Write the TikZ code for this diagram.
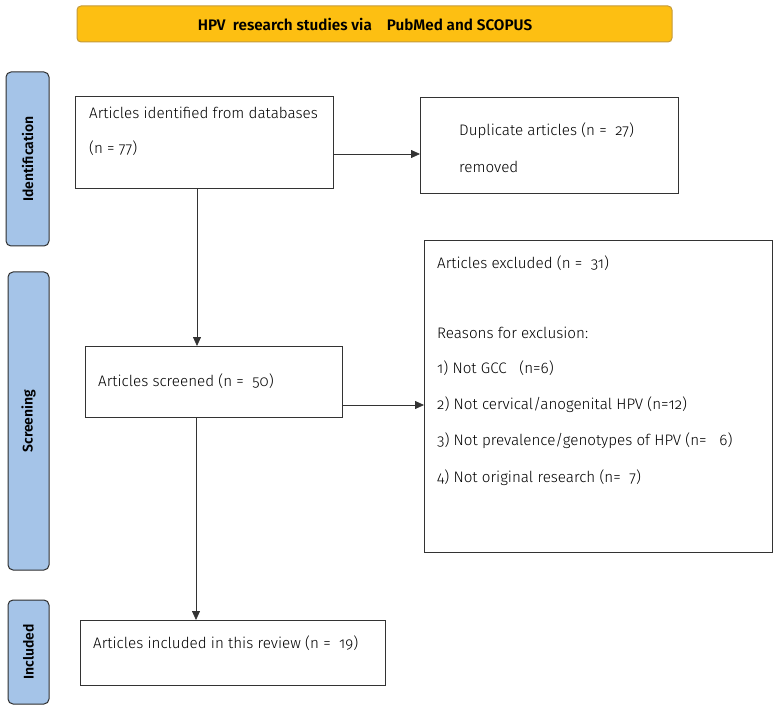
\documentclass[tikz,border=0pt]{standalone}
\usepackage{fontspec}
\setmainfont{Fira Sans}[UprightFont=* Light, BoldFont=* SemiBold, Numbers=OldStyle]
\usetikzlibrary{arrows.meta}
\definecolor{titlefill}{HTML}{FDBF12}
\definecolor{titledraw}{HTML}{C49A3A}
\definecolor{sidefill}{HTML}{A5C4E8}
\definecolor{sidedraw}{HTML}{2E2E2E}
\begin{document}
\begin{tikzpicture}[x=1pt,y=-1pt,
  box/.style={draw=black!80, line width=1pt},
  side/.style={draw=sidedraw, fill=sidefill, line width=1pt, rounded corners=5pt},
  sidetext/.style={rotate=90, font=\bfseries\fontsize{14}{16}\selectfont},
  txt/.style={anchor=west, font=\fontsize{15.2}{18}\selectfont, inner sep=0pt},
  conn/.style={draw=black!80, line width=0.8pt},
  arr/.style={conn, -{Triangle[length=9pt,width=8pt]}}]
\useasboundingbox (0,0) rectangle (779,711);
% title
\draw[fill=titlefill, draw=titledraw, line width=1pt, rounded corners=4pt] (77,6) rectangle (672,42);
\node[font=\bfseries\fontsize{15.3}{18}\selectfont] (title) at (365,24) {HPV\ \ research studies via\ \ \ \ PubMed and SCOPUS};
% side bars
\draw[side] (6,72) rectangle (49,246);
\node[sidetext] (sideid) at (27.5,159) {Identification};
\draw[side] (8,272) rectangle (49,570);
\node[sidetext] (sidesc) at (28.5,421) {Screening};
\draw[side] (8,600) rectangle (49,704);
\node[sidetext] (sidein) at (28.5,652) {Included};
% boxes
\node[box, minimum width=258pt, minimum height=92pt, anchor=north west] (b1) at (75,96) {};
\node[txt] at (89,113) {Articles identified from databases};
\node[txt] at (89,148) {(n = 77)};
\node[box, minimum width=258pt, minimum height=96pt, anchor=north west] (b2) at (420,97) {};
\node[txt] at (459,131) {Duplicate articles (n =\ \ 27)};
\node[txt] at (459,167) {removed};
\node[box, minimum width=257pt, minimum height=71pt, anchor=north west] (b3) at (85,346) {};
\node[txt] at (98,381) {Articles screened (n =\ \ 50)};
\node[box, minimum width=348pt, minimum height=312pt, anchor=north west] (b4) at (424,240) {};
\node[txt] at (437,263) {Articles excluded (n =\ \ 31)};
\node[txt] at (437,333) {Reasons for exclusion:};
\node[txt] at (437,368) {1) Not GCC\ \ \ (n=6)};
\node[txt] at (437,405) {2) Not cervical/anogenital HPV (n=12)};
\node[txt] at (437,441) {3) Not prevalence/genotypes of HPV (n=\ \ \ 6)};
\node[txt] at (437,478) {4) Not\ original research (n=\ \ 7)};
\node[box, minimum width=305pt, minimum height=65pt, anchor=north west] (b5) at (80,620) {};
\node[txt] at (93,643) {Articles included in this review (n =\ \ 19)};
% connectors
\coordinate (a1) at (b1.east |- 0,154);
\draw[arr] (a1) -- (b2.west |- a1);
\draw[arr] (b1.south -| 197,0) -- (b3.north -| 197,0);
\coordinate (a2) at (b3.east |- 0,405);
\draw[arr] (a2) -- (b4.west |- a2);
\draw[arr] (b3.south -| 196,0) -- (b5.north -| 196,0);
\end{tikzpicture}
\end{document}
